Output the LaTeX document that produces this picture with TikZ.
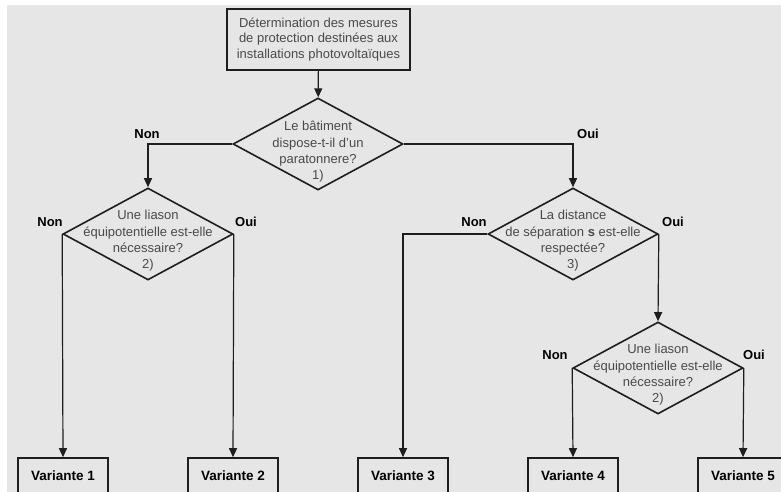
\documentclass[tikz,border=0pt]{standalone}
\usepackage{fontspec}
\setmainfont{Liberation Sans}
\usepackage{tikz}
\usetikzlibrary{arrows.meta}
\usetikzlibrary{shapes.geometric}

\definecolor{panelgray}{HTML}{E6E6E6}
\definecolor{textgray}{HTML}{4A4A4A}
\definecolor{linegray}{HTML}{1E1E1E}

\begin{document}
\begin{tikzpicture}[x=1pt, y=-1pt,
        startbox/.style={draw=linegray, line width=1.6pt, minimum width=183pt, minimum height=61pt, inner sep=0pt, align=center, text=textgray, font=\fontsize{13}{15.5}\selectfont},
        decision/.style={draw=linegray, line width=1.6pt, shape=diamond, minimum width=170pt, minimum height=92pt, inner sep=0pt},
        question/.style={align=center, text=textgray, inner sep=0pt, font=\fontsize{13}{16.3}\selectfont},
        variant/.style={draw=linegray, line width=1.6pt, minimum width=90pt, minimum height=36pt, inner sep=0pt, font=\bfseries\fontsize{13.5}{16}\selectfont},
        answer/.style={inner sep=0pt, font=\bfseries\fontsize{13}{16}\selectfont},
        flow/.style={draw=linegray, line width=1.2pt, -{Triangle[width=8pt,length=9pt]}},
        link/.style={draw=linegray, line width=1.2pt}]
        \useasboundingbox (0,0) rectangle (781,492);
        \fill[panelgray] (7,5) rectangle (781,492);

        \node[startbox] (start) at (318.5,39.5) {D\'etermination des mesures\\de protection destin\'ees aux\\installations photovolta\"iques};

        \node[decision] (q1) at (318,144) {};
        \node[question] (q1text) at (318,152) {Le b\^atiment\\dispose-t-il d'un\\paratonnere?\\1)};
        \node[decision] (q2) at (148,234) {};
        \node[question] (q2text) at (148,241) {Une liason\\\'equipotentielle est-elle\\n\'ecessaire?\\2)};
        \node[decision] (q3) at (573,234) {};
        \node[question] (q3text) at (573,241) {La distance\\de s\'eparation \textbf{s} est-elle\\respect\'ee?\\3)};
        \node[decision] (q4) at (658,368) {};
        \node[question] (q4text) at (658,375) {Une liason\\\'equipotentielle est-elle\\n\'ecessaire?\\2)};

        \node[variant] (v1) at (63,476) {Variante 1};
        \node[variant] (v2) at (233,476) {Variante 2};
        \node[variant] (v3) at (403,476) {Variante 3};
        \node[variant] (v4) at (573,476) {Variante 4};
        \node[variant] (v5) at (743,476) {Variante 5};

        \node[answer] (q1no) at (147,134) {Non};
        \node[answer] (q1yes) at (588,134) {Oui};
        \node[answer] (q2no) at (50,222) {Non};
        \node[answer] (q2yes) at (246,222) {Oui};
        \node[answer] (q3no) at (474,222) {Non};
        \node[answer] (q3yes) at (673,222) {Oui};
        \node[answer] (q4no) at (555,355) {Non};
        \node[answer] (q4yes) at (754,355) {Oui};

        \draw[flow] (start) -- (q1);
        \draw[flow] (q1.west) -| (q2.north);
        \draw[flow] (q1.east) -| (q3.north);
        \draw[flow] (q2.west) -- (v1.north);
        \draw[flow] (q2.east) -- (v2.north);
        \draw[flow] (q3.west) -| (v3.north);
        \draw[flow] (q3.east) -- (q4.north);
        \draw[flow] (q4.west) -- (v4.north);
        \draw[flow] (q4.east) -- (v5.north);
\end{tikzpicture}
\end{document}
